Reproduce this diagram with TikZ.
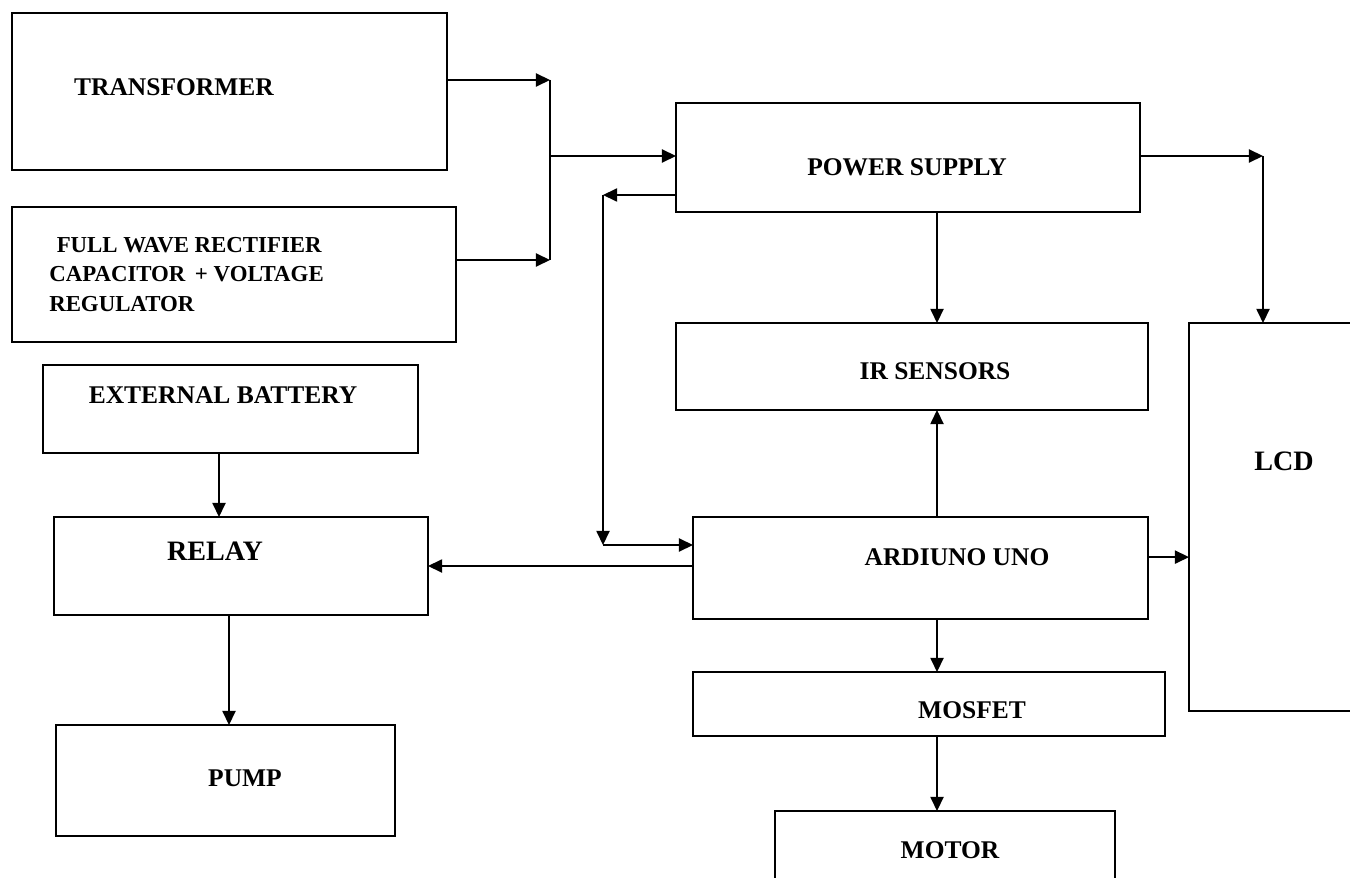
\documentclass[tikz,border=0pt]{standalone}
\usepackage{fontspec}
\setmainfont{Liberation Serif}
\usetikzlibrary{arrows.meta, positioning, calc}

\begin{document}
\begin{tikzpicture}[
    ->,  % every connector is directed
    >={Triangle[length=8pt, width=7.5pt]},
    line width=0.8pt,
    blockbox/.style={draw, rectangle, outer sep=0pt, inner sep=0pt}, % the boxes
    lbl/.style={font={\fontsize{14.5}{17}\selectfont\bfseries}, inner sep=0pt}, % the texts in the boxes
  ]
  \useasboundingbox (0,0) rectangle (27,-17.56);

  % left column
  \node[blockbox, minimum width=8.70cm, minimum height=3.14cm,
    label={[lbl, shift={(-1.11,0.09)}]center:TRANSFORMER}] (trans) at (4.59,-1.83) {};
  \node[blockbox, minimum width=8.88cm, minimum height=2.70cm,
    label={[lbl, align=left, font={\fontsize{13}{17}\selectfont\bfseries}, shift={(-0.95,0)}]center:%
      \hspace{0.15cm}FULL WAVE RECTIFIER\\CAPACITOR \,+ VOLTAGE\\REGULATOR}] (rect) at (4.68,-5.49) {};
  \node[blockbox, minimum width=7.50cm, minimum height=1.76cm,
    label={[lbl, shift={(-0.15,0.28)}]center:EXTERNAL BATTERY}] (batt) at (4.61,-8.18) {};
  \node[blockbox, minimum width=7.48cm, minimum height=1.96cm,
    label={[lbl, font={\fontsize{16}{18}\selectfont\bfseries}, shift={(-0.52,0.30)}]center:RELAY}] (relay) at (4.82,-11.32) {};
  \node[blockbox, minimum width=6.78cm, minimum height=2.22cm,
    label={[lbl, shift={(0.39,0.05)}]center:PUMP}] (pump) at (4.51,-15.61) {};

  % right part
  \node[blockbox, minimum width=9.28cm, minimum height=2.18cm,
    label={[lbl, shift={(-0.02,-0.19)}]center:POWER SUPPLY}] (power) at (18.16,-3.15) {};
  \node[blockbox, minimum width=9.44cm, minimum height=1.74cm,
    label={[lbl, shift={(0.46,-0.09)}]center:IR SENSORS}] (ir) at (18.24,-7.33) {};
  \node[blockbox, minimum width=9.10cm, minimum height=2.04cm,
    label={[lbl, shift={(0.73,0.22)}]center:ARDIUNO UNO}] (ardu) at (18.41,-11.36) {};
  \node[blockbox, minimum width=9.44cm, minimum height=1.28cm,
    label={[lbl, shift={(0.86,-0.12)}]center:MOSFET}] (mosfet) at (18.58,-14.08) {};
  \node[blockbox, minimum width=6.80cm, minimum height=1.78cm,
    label={[lbl, shift={(0.10,0.11)}]center:MOTOR}] (motor) at (18.90,-17.11) {};
  \node[blockbox, minimum width=3.62cm, minimum height=7.76cm,
    label={[lbl, font={\fontsize{16}{18}\selectfont\bfseries}, shift={(0.09,1.12)}]center:LCD}] (lcd) at (25.59,-10.34) {};

  % corners of the connectors
  \coordinate (bus top) at (11.0,-1.60);
  \coordinate (bus mid) at (11.0,-3.12);
  \coordinate (bus bot) at (11.0,-5.20);
  \coordinate (loop top) at (12.06,-3.90);
  \coordinate (loop bot) at (12.06,-10.90);
  \coordinate (lcd corner) at (25.26,-3.12);
  \coordinate (spine) at (18.74,0);

  \draw (trans.east |- bus top) -- (bus top);
  \draw (rect.east |- bus bot) -- (bus bot);
  \draw[-] (bus top) -- (bus bot);
  \draw (bus mid) -- (power.west |- bus mid);

  \draw (power.west |- loop top) -- (loop top);
  \draw (loop top) -- (loop bot);
  \draw (loop bot) -- (ardu.west |- loop bot);

  \draw (power.east |- lcd corner) -- (lcd corner);
  \draw (lcd corner) -- (lcd.north -| lcd corner);

  \draw (power.south -| spine) -- (ir.north -| spine);
  \draw (ardu.north -| spine) -- (ir.south -| spine);
  \draw (ardu.south -| spine) -- (mosfet.north -| spine);
  \draw (mosfet.south -| spine) -- (motor.north -| spine);

  \draw (ardu.west |- relay.east) -- (relay.east);
  \draw ([yshift=6.2pt]ardu.east) -- ([yshift=6.2pt]ardu.east -| lcd.west);

  \draw ([xshift=-0.23cm]batt.south) -- ([xshift=-0.23cm]batt.south |- relay.north);
  \draw ([xshift=-0.24cm]relay.south) -- ([xshift=-0.24cm]relay.south |- pump.north);

\end{tikzpicture}
\end{document}
